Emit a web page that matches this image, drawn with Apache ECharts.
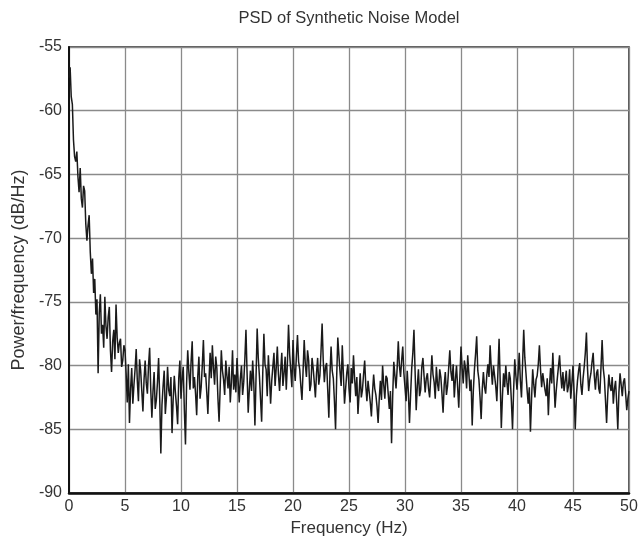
<!DOCTYPE html>
<html>
<head>
<meta charset="utf-8">
<script src="https://cdn.jsdelivr.net/npm/echarts@6/dist/echarts.min.js"></script>
<style>
html,body{margin:0;padding:0;background:#fff;}
#chart{width:643px;height:544px;}
</style>
</head>
<body>
<div id="chart"></div>
<script>
// Frequency sampling of the PSD (Hz)
var freqStep = 0.1;
// PSD values (dB/Hz), one per 0.1 Hz from 0 to 50 Hz
var psd0to5 = [-57.4, -56.6, -58.9, -59.5, -62.3, -63.6, -64.0, -63.2, -65.2, -66.4, -64.5, -66.9, -67.6, -65.9, -66.3, -68.9, -70.2, -69.0, -68.2, -71.1, -72.8, -71.6, -74.3, -73.2, -76.0, -74.8, -80.6, -75.9, -74.4, -77.5, -76.8, -78.6, -74.6, -76.9, -77.9, -76.2, -75.4, -78.8, -80.5, -78.1, -77.2, -79.5, -75.2, -77.8, -79.0, -78.2, -77.9, -80.1, -79.6, -78.4];
var psd5to10 = [-78.8, -80.6, -82.9, -79.9, -84.5, -81.8, -80.2, -83.0, -81.5, -80.3, -78.7, -81.2, -82.8, -79.5, -80.4, -82.0, -83.6, -81.1, -79.6, -81.4, -82.2, -80.0, -78.6, -81.9, -84.1, -82.0, -80.5, -83.4, -82.7, -81.3, -79.4, -82.6, -86.9, -83.1, -81.6, -80.4, -83.8, -82.5, -80.1, -81.9, -82.4, -80.9, -85.3, -82.7, -80.8, -82.1, -83.2, -84.6, -81.0, -79.6];
var psd10to15 = [-82.6, -81.0, -80.1, -83.5, -86.2, -81.4, -78.8, -80.5, -81.9, -79.7, -78.1, -81.8, -80.9, -82.2, -83.9, -80.8, -79.3, -82.6, -81.7, -80.0, -78.0, -80.9, -80.6, -82.1, -83.8, -81.2, -79.0, -81.0, -78.4, -80.2, -81.5, -79.3, -80.2, -82.6, -84.4, -81.7, -78.8, -80.4, -81.1, -82.3, -79.6, -80.8, -81.8, -80.1, -82.9, -81.3, -78.8, -81.9, -80.7, -82.1];
var psd15to20 = [-79.4, -81.2, -82.9, -81.0, -80.0, -82.3, -81.3, -79.5, -77.2, -80.6, -83.7, -81.9, -80.4, -82.0, -79.6, -81.4, -84.7, -80.9, -77.1, -79.4, -80.8, -82.6, -84.4, -80.6, -77.5, -79.9, -80.3, -82.4, -79.2, -80.9, -83.0, -81.2, -80.1, -79.0, -81.6, -80.2, -78.5, -80.7, -82.0, -80.4, -79.0, -81.6, -80.6, -79.3, -81.9, -79.8, -76.8, -79.1, -80.4, -81.7];
var psd20to25 = [-78.0, -80.2, -81.2, -79.3, -77.6, -79.7, -80.3, -81.6, -82.7, -80.4, -78.0, -79.9, -80.9, -78.8, -79.6, -82.0, -81.5, -79.4, -80.2, -81.3, -82.5, -80.6, -79.4, -81.5, -80.8, -78.9, -76.7, -79.6, -81.3, -80.1, -79.8, -81.9, -84.1, -80.7, -78.5, -80.4, -81.0, -82.8, -85.0, -80.9, -77.8, -79.2, -80.5, -81.6, -78.4, -80.7, -83.0, -81.8, -80.6, -79.9];
var psd25to30 = [-81.8, -82.9, -80.2, -81.4, -79.2, -81.0, -82.4, -80.9, -83.8, -82.2, -80.6, -82.5, -81.9, -80.7, -79.6, -81.6, -82.8, -81.2, -81.3, -82.9, -84.0, -82.1, -80.7, -81.8, -82.3, -83.2, -84.5, -82.6, -81.2, -82.7, -80.0, -81.5, -82.6, -80.8, -81.0, -82.2, -83.4, -82.0, -86.1, -82.4, -79.7, -80.8, -81.8, -80.2, -78.1, -80.0, -80.9, -79.6, -78.5, -80.6];
var psd30to35 = [-81.7, -82.8, -80.4, -82.1, -84.5, -82.3, -80.2, -79.0, -77.2, -80.4, -83.5, -81.6, -80.3, -82.4, -81.9, -80.1, -79.4, -80.8, -82.1, -81.0, -80.6, -81.8, -82.5, -80.9, -79.2, -80.7, -81.3, -82.6, -80.1, -81.4, -82.0, -80.3, -80.9, -82.2, -83.7, -81.5, -80.5, -82.3, -81.6, -80.2, -78.8, -80.5, -81.2, -79.9, -82.5, -81.1, -80.0, -81.7, -83.3, -80.9];
var psd35to40 = [-78.5, -80.2, -81.4, -79.6, -80.2, -81.8, -79.2, -80.6, -82.0, -81.1, -84.7, -82.0, -80.3, -79.1, -77.7, -80.4, -81.1, -82.5, -84.2, -81.8, -80.5, -81.7, -82.2, -80.8, -79.9, -80.9, -78.4, -80.2, -81.5, -80.0, -80.1, -81.6, -82.8, -80.4, -77.9, -81.2, -84.9, -82.4, -80.6, -81.7, -80.0, -81.3, -82.3, -80.5, -81.0, -82.8, -85.0, -81.9, -79.5, -80.8];
var psd40to45 = [-81.9, -80.6, -79.0, -81.2, -82.5, -79.8, -77.2, -79.4, -80.6, -81.9, -83.0, -81.7, -85.2, -82.6, -80.3, -81.5, -82.5, -81.1, -80.8, -79.9, -78.4, -80.3, -81.7, -80.6, -80.5, -81.9, -82.4, -81.0, -83.9, -81.6, -80.2, -81.4, -79.0, -81.2, -83.3, -82.0, -81.0, -80.1, -79.2, -80.7, -81.8, -80.5, -82.0, -81.2, -80.4, -82.1, -81.6, -80.3, -82.6, -81.4];
var psd45to50 = [-80.0, -82.2, -85.0, -82.4, -81.2, -80.4, -79.8, -81.5, -82.3, -81.0, -80.1, -79.0, -77.4, -80.3, -82.0, -81.1, -80.6, -79.7, -79.0, -80.8, -81.9, -80.6, -80.3, -81.8, -82.2, -80.1, -78.0, -80.2, -81.0, -82.7, -84.5, -82.3, -80.7, -81.6, -82.0, -80.9, -83.0, -81.8, -81.2, -82.9, -85.0, -82.1, -80.6, -81.5, -82.4, -81.3, -81.0, -82.2, -83.5, -82.6, -82.0];

var xTicks = [0, 5, 10, 15, 20, 25, 30, 35, 40, 45, 50];
var yTicks = [-90, -85, -80, -75, -70, -65, -60, -55];

var psd = [].concat(psd0to5, psd5to10, psd10to15, psd15to20, psd20to25,
                    psd25to30, psd30to35, psd35to40, psd40to45, psd45to50);
var seriesData = psd.map(function (v, i) {
  return [Math.round(i * freqStep * 1000) / 1000, v];
});

var chart = echarts.init(document.getElementById('chart'), null, {renderer: 'canvas'});
var txt = '#333';
var font = 'Liberation Sans, Arial, sans-serif';
chart.setOption({
  animation: false,
  backgroundColor: '#fff',
  title: {
    text: 'PSD of Synthetic Noise Model',
    left: 344, top: 5, textAlign: 'center',
    textStyle: {fontSize: 16.5, fontWeight: 'normal', color: txt, fontFamily: font}
  },
  grid: {
    left: 69, right: 14, top: 47, bottom: 51,
    show: true, borderColor: '#222', borderWidth: 1.5, backgroundColor: '#fff'
  },
  xAxis: [{
    type: 'value', min: xTicks[0], max: xTicks[xTicks.length - 1], interval: 5,
    name: 'Frequency (Hz)', nameLocation: 'middle', nameGap: 20,
    nameTextStyle: {fontSize: 17, color: txt, fontFamily: font},
    axisLine: {show: true, onZero: false, lineStyle: {color: '#111', width: 2.5}},
    axisTick: {show: false},
    axisLabel: {fontSize: 16, color: txt, fontFamily: font, margin: 6},
    splitLine: {show: true, lineStyle: {color: '#8a8a8a', width: 1.3}}
  }],
  yAxis: [{
    type: 'value', min: yTicks[0], max: yTicks[yTicks.length - 1], interval: 5,
    name: 'Power/frequency (dB/Hz)', nameLocation: 'middle', nameGap: 40, nameRotate: 90,
    nameTextStyle: {fontSize: 18, color: txt, fontFamily: font},
    axisLine: {show: true, onZero: false, lineStyle: {color: '#111', width: 2}},
    axisTick: {show: false},
    axisLabel: {fontSize: 16, color: txt, fontFamily: font, margin: 7},
    splitLine: {show: true, lineStyle: {color: '#8a8a8a', width: 1.3}}
  }],
  series: [{
    type: 'line',
    data: seriesData,
    showSymbol: false,
    symbol: 'none',
    lineStyle: {color: '#1a1a1a', width: 1.5},
    z: 3
  }]
});
</script>
</body>
</html>
